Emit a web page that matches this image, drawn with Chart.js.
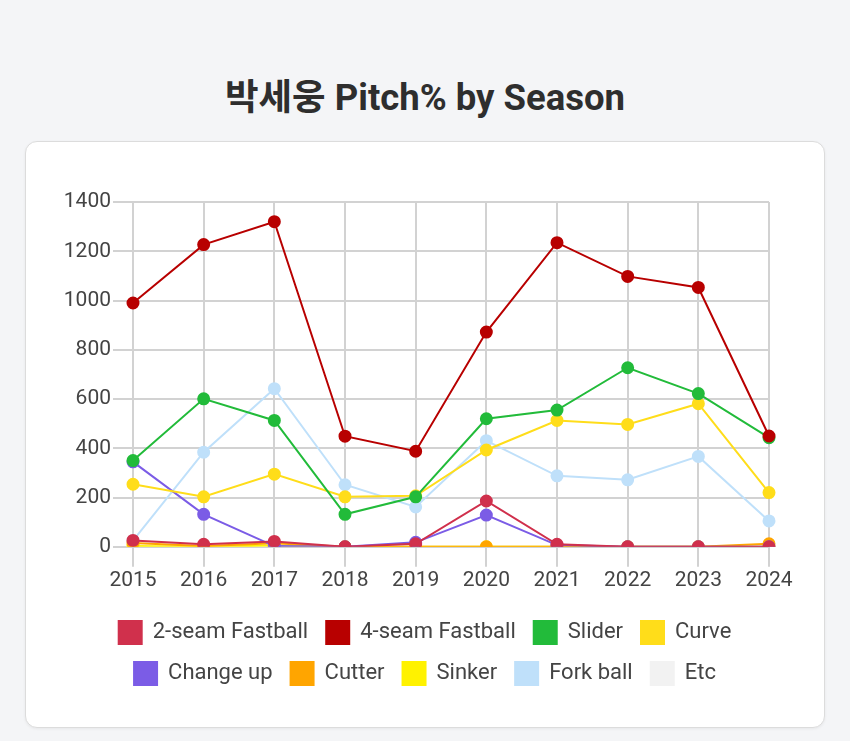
<!DOCTYPE html>
<html>
<head>
<meta charset="utf-8">
<script src="https://cdn.jsdelivr.net/npm/chart.js@4/dist/chart.umd.min.js"></script>
<style>
  html, body { margin: 0; padding: 0; background: #f4f5f7; width: 850px; height: 741px; overflow: hidden; }
  #title { position: absolute; left: 0; top: 74px; width: 850px; text-align: center;
    font-family: Roboto, "Noto Sans CJK KR", sans-serif; font-weight: 700; font-size: 36.5px; color: #2e2e2e; line-height: 48px; }
  #card { position: absolute; left: 25px; top: 141px; width: 798px; height: 585px;
    background: #fff; border: 1.5px solid #dcdcdc; border-radius: 12px; box-shadow: 0 1px 3px rgba(0,0,0,0.06); }
  #c { position: absolute; left: 0; top: 0; }
</style>
</head>
<body>
<div id="title">박세웅 Pitch% by Season</div>
<div id="card"><canvas id="c" width="798" height="585"></canvas></div>
<script>
const seasons = ['2015','2016','2017','2018','2019','2020','2021','2022','2023','2024'];
const twoSeam  = [26, 10, 22, 0, 12, 186, 10, 0, 0, 0];
const fourSeam = [990, 1227, 1320, 449, 388, 872, 1235, 1098, 1053, 450];
const slider   = [350, 601, 513, 132, 203, 520, 555, 727, 622, 443];
const curve    = [254, 203, 295, 203, 207, 393, 513, 497, 581, 220];
const changeUp = [345, 132, 3, 0, 18, 129, 7, 0, 0, 0];
const cutter   = [15, 3, 14, 0, 0, 0, 0, 0, 0, 12];
const sinker   = [3, 0, 5, 0, 0, 0, 0, 0, 0, 0];
const forkBall = [25, 384, 642, 252, 162, 431, 288, 272, 367, 105];
const etc      = [0, 0, 0, 0, 0, 0, 0, 0, 0, 0];

const seriesNames = ['2-seam Fastball','4-seam Fastball','Slider','Curve','Change up','Cutter','Sinker','Fork ball','Etc'];
const seriesData = [twoSeam, fourSeam, slider, curve, changeUp, cutter, sinker, forkBall, etc];
const seriesColors = ['#D0304C','#B80000','#22BB3A','#FFDD1A','#7B5CE6','#FFA500','#FFF200','#BFE0FA','#F2F2F2'];

const FONT = 'Roboto, "Noto Sans CJK KR", sans-serif';
const GRID = '#d2d2d2';

// shift legend so it is centred on the card
const legendShift = {
  id: 'legendShift',
  afterLayout(chart) {
    const lg = chart.legend;
    if (!lg) return;
    const want = chart.width / 2;
    const cur = (lg.left + lg.right) / 2;
    const d = want - cur;
    lg.left += d; lg.right += d;
    if (lg.legendHitBoxes) lg.legendHitBoxes.forEach(h => { h.left += d; });
  }
};

new Chart(document.getElementById('c'), {
  type: 'line',
  data: {
    labels: seasons,
    datasets: seriesNames.map((name, i) => ({
      label: name,
      data: seriesData[i],
      borderColor: seriesColors[i],
      backgroundColor: seriesColors[i],
      pointBackgroundColor: seriesColors[i],
      pointBorderColor: seriesColors[i],
      borderWidth: 2,
      pointRadius: 5.5,
      tension: 0,
      fill: false
    }))
  },
  plugins: [legendShift],
  options: {
    responsive: false,
    animation: false,
    layout: { padding: { left: 38, right: 55, top: 60, bottom: 32 } },
    plugins: {
      title: { display: false },
      tooltip: { enabled: false },
      legend: {
        position: 'bottom',
        labels: {
          boxWidth: 23, boxHeight: 23, padding: 18,
          color: '#444', font: { family: FONT, size: 22 }
        }
      }
    },
    scales: {
      x: {
        offset: false,
        afterFit: (s) => { s.height += 9; },
        grid: { color: GRID, lineWidth: 2, tickLength: 20, drawTicks: true },
        border: { color: GRID, width: 2 },
        ticks: { color: '#444', font: { family: FONT, size: 21 }, padding: 1, maxRotation: 0 }
      },
      y: {
        min: 0, max: 1400,
        afterFit: (s) => { s.width = 69; },
        grid: { color: GRID, lineWidth: 2, tickLength: 20 },
        border: { color: GRID, width: 2 },
        ticks: { stepSize: 200, color: '#444', font: { family: FONT, size: 21 }, padding: 2,
          callback: (v) => String(v) }
      }
    }
  }
});
</script>
</body>
</html>
